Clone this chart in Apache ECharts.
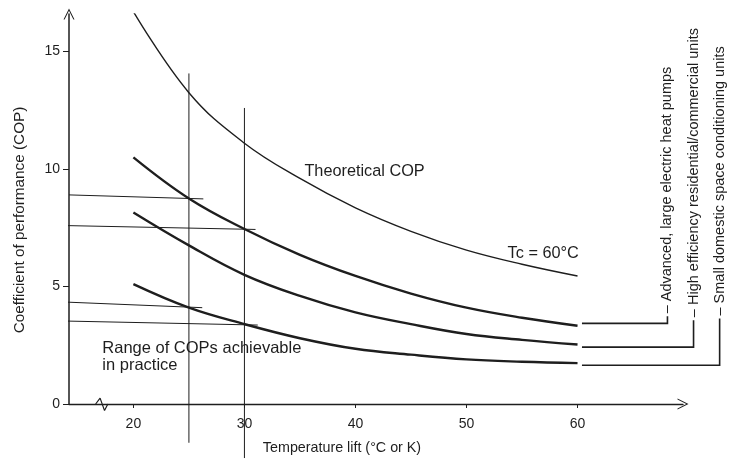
<!DOCTYPE html>
<html>
<head>
<meta charset="utf-8">
<script src="https://cdn.jsdelivr.net/npm/echarts@6/dist/echarts.min.js"></script>
<style>
  html, body { margin: 0; padding: 0; background: #fff; }
  #main { width: 737px; height: 460px; }
</style>
</head>
<body>
<div id="main"></div>
<script>
// temperature lift (°C or K)
var lift = [20, 25, 30, 35, 40, 45, 50, 55, 60];
// COP curves
var theoreticalCop = [16.7, 13.25, 11.1, 9.6, 8.35, 7.35, 6.55, 5.95, 5.45];
var advancedCop = [10.5, 8.75, 7.45, 6.35, 5.45, 4.7, 4.1, 3.67, 3.33];
var highEffCop = [8.15, 6.75, 5.5, 4.6, 3.9, 3.4, 2.98, 2.73, 2.53];
var smallCop = [5.1, 4.1, 3.4, 2.8, 2.35, 2.1, 1.9, 1.8, 1.74];

var xTicks = [20, 30, 40, 50, 60];
var yTicks = [0, 5, 10, 15];

// reading lines at 25 and 30 K lift
var markLifts = [25, 30];
var markTops = [14.07, 12.6];
var markBottoms = [-1.65, -2.3];
// horizontal reading lines: [x start, y start, x end, y end]
var readLines = [
    [14.2, 8.9, 26.3, 8.73],
    [13.3, 7.6, 31.0, 7.43],
    [13.3, 4.35, 26.2, 4.1],
    [14.0, 3.53, 31.2, 3.36]
];
// bracket lines to the application labels
var bracketLevel = [3.43, 2.42, 1.65];
var bracketX = [68.1, 70.45, 72.8];
var bracketTop = [3.73, 3.57, 3.64];
var bracketNames = [
    '– Advanced, large electric heat pumps',
    '– High efficiency residential/commercial units',
    '– Small domestic space conditioning units'
];
var breakMark = [[16.6, 0], [17.0, 0.25], [17.4, -0.28], [17.7, 0]];

var ink = '#1e1e1e';
var font = 'Liberation Sans';
var chevron = 'path://M0,20 L10,0 L20,20 L18,20 L10,4 L2,20 Z';

function pairs(xs, ys) {
    return xs.map(function (x, i) { return [x, ys[i]]; });
}

var series = [];
function curve(name, ys, w) {
    series.push({
        name: name, type: 'line', smooth: 0.4, symbol: 'none',
        lineStyle: { color: ink, width: w },
        data: pairs(lift, ys)
    });
}
curve('Theoretical COP', theoreticalCop, 1.4);
curve('Advanced', advancedCop, 2.4);
curve('High efficiency', highEffCop, 2.4);
curve('Small domestic', smallCop, 2.4);

function thin(data, w) {
    series.push({
        type: 'line', symbol: 'none', clip: false, silent: true,
        lineStyle: { color: ink, width: w || 1 },
        data: data
    });
}
markLifts.forEach(function (x, i) {
    thin([[x, markTops[i]], [x, markBottoms[i]]]);
});
readLines.forEach(function (l) {
    thin([[l[0], l[1]], [l[2], l[3]]]);
});
thin(breakMark, 1.2);

var chart = echarts.init(document.getElementById('main'));
chart.setOption({
    animation: false,
    textStyle: { fontFamily: font, color: ink },
    grid: { left: 69, right: 54, top: 14, bottom: 54 },
    xAxis: {
        type: 'value', min: 14.2, max: 69.5,
        name: 'Temperature lift (°C or K)',
        nameLocation: 'middle', nameGap: 37,
        nameTextStyle: { fontSize: 14.3, color: ink, padding: [0, 68, 0, 0] },
        axisLine: { lineStyle: { color: ink, width: 1.3 }, symbol: ['none', chevron], symbolSize: [13, 11] },
        axisTick: { customValues: xTicks, length: 4, lineStyle: { color: ink } },
        axisLabel: { customValues: xTicks, fontSize: 14, color: ink, margin: 13 },
        splitLine: { show: false }
    },
    yAxis: {
        type: 'value', min: 0, max: 16.6,
        name: 'Coefficient of performance (COP)',
        nameLocation: 'middle', nameGap: 42,
        nameTextStyle: { fontSize: 15.3, color: ink, padding: [0, 22, 0, 0] },
        axisLine: { lineStyle: { color: ink, width: 1.5 }, symbol: ['none', chevron], symbolSize: [15, 11] },
        axisTick: { customValues: yTicks, length: 6, lineStyle: { color: ink } },
        axisLabel: { customValues: yTicks, fontSize: 14, color: ink, margin: 9 },
        splitLine: { show: false }
    },
    series: series
});

// annotations and bracket lines anchored to data coordinates
var graphics = [];
function px(pt) {
    return chart.convertToPixel({ gridIndex: 0 }, pt);
}
function note(text, at, size) {
    var p = px(at);
    graphics.push({
        type: 'text', x: p[0], y: p[1],
        style: { text: text, font: size + 'px ' + font, fill: ink, textAlign: 'left', textVerticalAlign: 'middle', lineHeight: 17 }
    });
}
note('Theoretical COP', [35.4, 9.9], 16.3);
note('Tc = 60°C', [53.7, 6.4], 16.3);
note('Range of COPs achievable\nin practice', [17.2, 2.0], 16.5);

bracketNames.forEach(function (t, i) {
    var pts = [[60.4, bracketLevel[i]], [bracketX[i], bracketLevel[i]], [bracketX[i], bracketTop[i]]].map(px);
    graphics.push({
        type: 'polyline', silent: true,
        shape: { points: pts },
        style: { stroke: ink, lineWidth: 1.6, fill: null }
    });
    var p = pts[2];
    graphics.push({
        type: 'text', x: p[0], y: p[1] - 3, rotation: Math.PI / 2,
        style: { text: t, font: '14.5px ' + font, fill: ink, textAlign: 'left', textVerticalAlign: 'middle' }
    });
});
chart.setOption({ graphic: graphics });
</script>
</body>
</html>
